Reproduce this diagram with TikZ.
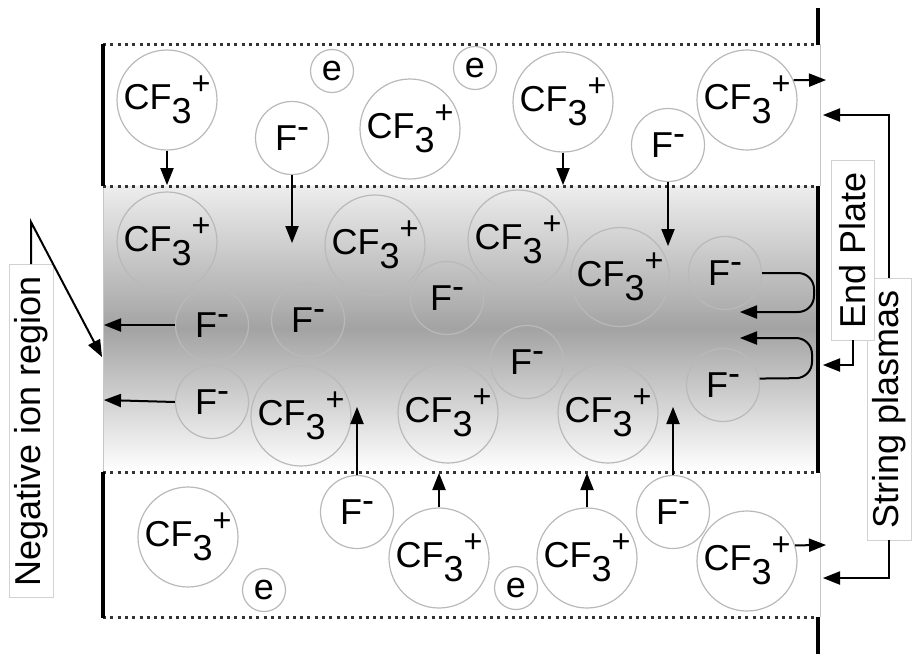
\documentclass[tikz,border=0pt]{standalone}
\usepackage{fontspec}
\usepackage{graphicx}
\setmainfont{Liberation Sans}
\usetikzlibrary{calc}
\newcommand\cfion{CF\raisebox{-0.38em}{3}\raisebox{0.42em}{\scalebox{0.9}{+}}}
\newcommand\fion{F\raisebox{0.32em}{-}}
% filled arrow head at #1, pointing away from #2
\newcommand\ahd[2]{%
  \path ($(#1)!17pt!(#2)$) coordinate (hb);
  \fill (#1) -- ($(hb)!6.8pt!90:(#1)$) -- ($(hb)!6.8pt!-90:(#1)$) -- cycle;}
\begin{document}
\begin{tikzpicture}[x=1pt,y=-1pt,
  ion/.style={circle,draw=gray!55,line width=1.2pt,inner sep=0pt,font=\fontsize{36}{40}\selectfont},
  big/.style={ion,minimum size=100pt},
  mid/.style={ion,minimum size=73pt},
  small/.style={ion,minimum size=43pt},
  arr/.style={line width=2pt,shorten >=10pt},
  dots/.style={line width=3pt,dash pattern=on 3pt off 4.3pt,black!80},
  plate/.style={line width=3.8pt},
  thinedge/.style={line width=0.8pt,gray!45},
  lbl/.style={draw=gray!35,line width=0.8pt,fill=white,rotate=90,inner sep=0pt,font=\fontsize{36}{40}\selectfont}
]
\useasboundingbox (0,0) rectangle (913,654);
% band: gradient built from thin strips
\foreach \i in {0,...,142}{
  \pgfmathsetmacro\tt{(\i+0.5)/143}
  \pgfmathsetmacro\dd{\tt<0.5 ? 7+29*(\tt/0.5) : 36*((1-\tt)/0.5)}
  \fill[black!\dd!white] (103,186+2*\i) rectangle (818,186+2*\i+2.6);
}
\draw[thinedge] (103,186) -- (103,472);
\draw[thinedge] (820,44) -- (820,186);
\draw[thinedge] (820,472) -- (820,617);
% dotted lines
\draw[dots] (103,44) -- (818,44);
\draw[dots] (103,186) -- (818,186);
\draw[dots] (103,472) -- (818,472);
\draw[dots] (103,617) -- (818,617);
% plates
\draw[plate] (103,44) -- (103,186);
\draw[plate] (103,472) -- (103,618);
\draw[plate] (818,8) -- (818,45);
\draw[plate] (818,186) -- (818,473);
\draw[plate] (818,617) -- (818,654);

% top region
\node[big] (t1) at (167,100) {\cfion};
\node[small] (te1) at (332,71) {e};
\node[small] (te2) at (475,68) {e};
\node[mid] (tf1) at (292,138) {\fion};
\node[big] (t2) at (410,129) {\cfion};
\node[big] (t3) at (563,102) {\cfion};
\node[mid] (tf2) at (668,145) {\fion};
\node[big] (t4) at (747,100) {\cfion};

% band
\node[big] (b1) at (167,242) {\cfion};
\node[big] (b2) at (375,245) {\cfion};
\node[big] (b3) at (518,240) {\cfion};
\node[big,minimum size=97pt] (b4) at (620,277) {\cfion};
\node[mid] (bf1) at (725,273) {\fion};
\node[mid] (bf2) at (212,325) {\fion};
\node[mid] (bf3) at (308,320) {\fion};
\node[mid] (bf4) at (447,298) {\fion};
\node[mid] (bf5) at (527,362) {\fion};
\node[mid] (bf6) at (212,402) {\fion};
\node[big] (b5) at (301,416) {\cfion};
\node[big] (b6) at (448,413) {\cfion};
\node[big] (b7) at (608,413) {\cfion};
\node[mid] (bf7) at (723,385) {\fion};

% bottom region
\node[big] (u1) at (188,537) {\cfion};
\node[small] (ue1) at (264,590) {e};
\node[mid] (uf1) at (357,512) {\fion};
\node[big] (u2) at (439,558) {\cfion};
\node[small] (ue2) at (516,588) {e};
\node[big] (u3) at (587,558) {\cfion};
\node[mid] (uf2) at (673,512) {\fion};
\node[big] (u4) at (747,561) {\cfion};

% arrow end points
\coordinate (t1e) at (t1.south |- 0,185);
\coordinate (tf1e) at (tf1.south |- 0,243);
\coordinate (t3e) at (t3.south |- 0,185);
\coordinate (tf2e) at (tf2.south |- 0,246);
\coordinate (t4e) at (826,80);
\coordinate (bf2e) at (104,325);
\coordinate (bf6e) at (104,400);
\coordinate (uf1e) at (uf1.north |- 0,407);
\coordinate (uf2e) at (uf2.north |- 0,407);
\coordinate (u2e) at (u2.north |- 0,473);
\coordinate (u3e) at (u3.north |- 0,473);
\coordinate (u4e) at (826,545);

\draw[arr] (t1.south) -- (t1e);   \ahd{t1e}{t1.south}
\draw[arr] (tf1.south) -- (tf1e); \ahd{tf1e}{tf1.south}
\draw[arr] (t3.south) -- (t3e);   \ahd{t3e}{t3.south}
\draw[arr] (tf2.south) -- (tf2e); \ahd{tf2e}{tf2.south}
\draw[arr] (t4.23) -- (t4e);      \ahd{t4e}{t4.23}
\draw[arr] (bf2.west) -- (bf2e);  \ahd{bf2e}{bf2.west}
\draw[arr] (bf6.west) -- (bf6e);  \ahd{bf6e}{bf6.west}
\draw[arr] (uf1.north) -- (uf1e); \ahd{uf1e}{uf1.north}
\draw[arr] (uf2.north) -- (uf2e); \ahd{uf2e}{uf2.north}
\draw[arr] (u2.north) -- (u2e);   \ahd{u2e}{u2.north}
\draw[arr] (u3.north) -- (u3e);   \ahd{u3e}{u3.north}
\draw[arr] (u4.18) -- (u4e);      \ahd{u4e}{u4.18}

% loops at the end plate
\coordinate (l1a) at (814,273);
\coordinate (l1b) at (814,312);
\coordinate (l1t) at (740,312);
\coordinate (l2a) at (812,378);
\coordinate (l2b) at (812,338);
\coordinate (l2t) at (740,338);
\draw[arr,rounded corners=16pt] (bf1.east) -- (l1a) -- (l1b) -- (l1t); \ahd{l1t}{l1b}
\draw[arr,rounded corners=16pt] (bf7.10) -- (l2a) -- (l2b) -- (l2t);   \ahd{l2t}{l2b}

% labels
\node[lbl,minimum width=333pt,minimum height=44pt] (neg) at (31,431) {Negative ion region};
\node[lbl,minimum width=262pt,minimum height=44pt] (sp) at (889,409) {String plasmas};
\node[lbl,minimum width=180pt,minimum height=43pt] (ep) at (853,250) {End Plate};

\coordinate (negbend) at (neg.east |- 0,222);
\coordinate (negtip) at (102,357);
\draw[arr] (neg.east) -- (negbend) -- (negtip); \ahd{negtip}{negbend}

\coordinate (epbend) at (ep.west |- 0,365);
\coordinate (eptip) at (823,365);
\draw[arr] (ep.west) -- (epbend) -- (eptip); \ahd{eptip}{epbend}

\coordinate (spbend1) at (sp.east |- 0,115);
\coordinate (sptip1) at (823,115);
\draw[arr] (sp.east) -- (spbend1) -- (sptip1); \ahd{sptip1}{spbend1}
\coordinate (spbend2) at (sp.west |- 0,578);
\coordinate (sptip2) at (823,578);
\draw[arr] (sp.west) -- (spbend2) -- (sptip2); \ahd{sptip2}{spbend2}
\end{tikzpicture}
\end{document}
